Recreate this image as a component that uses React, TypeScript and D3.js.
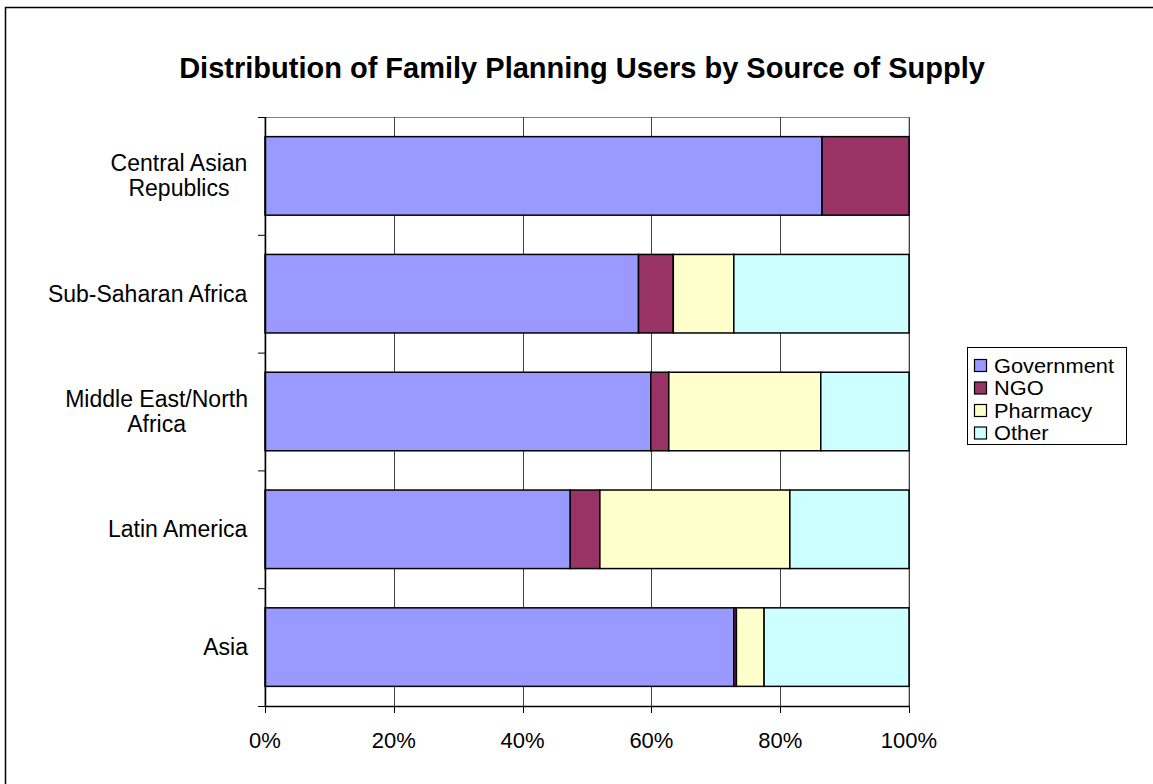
import React from "react";
import * as d3 from "d3";

const categories = ["Central Asian Republics", "Sub-Saharan Africa", "Middle East/North Africa", "Latin America", "Asia"];
const categoryLines = [["Central Asian", "Republics"], ["Sub-Saharan Africa"], ["Middle East/North", "Africa"], ["Latin America"], ["Asia"]];
const seriesNames = ["Government", "NGO", "Pharmacy", "Other"];
const government = [86.5, 58.0, 59.9, 47.4, 72.8];
const ngo = [13.5, 5.4, 2.8, 4.6, 0.4];
const pharmacy = [0, 9.4, 23.6, 29.5, 4.3];
const other = [0, 27.2, 13.7, 18.5, 22.5];
const xTicks = [0, 20, 40, 60, 80, 100];
const colors = ["#9999FF", "#993366", "#FFFFCC", "#CCFFFF"];

const FONT = "'Liberation Sans', Arial, Helvetica, sans-serif";

let ctx: CanvasRenderingContext2D | null = null;
function measure(text: string, size: number) {
  if (!ctx && typeof document !== "undefined") {
    ctx = document.createElement("canvas").getContext("2d");
  }
  if (!ctx) return text.length * size * 0.5;
  ctx.font = `${size}px ${FONT}`;
  return ctx.measureText(text).width;
}

export default function App() {
  const W = 1153, H = 784;
  const left = 265, right = 909, top = 117, bottom = 706;
  const x = d3.scaleLinear().domain([0, 100]).range([left, right]);
  const y = d3.scaleBand().domain(categories).range([top, bottom]).paddingInner(1 / 3).paddingOuter(1 / 6);
  const band = d3.scaleBand().domain(categories).range([top, bottom]);

  const rows = categories.map((c, i) => ({ cat: c, Government: government[i], NGO: ngo[i], Pharmacy: pharmacy[i], Other: other[i] }));
  const stack = d3.stack<any>().keys(seriesNames)(rows);
  const labelSize = 23;
  const legendSize = 20;

  return (
    <svg width={W} height={H} style={{ position: "absolute", left: 0, top: 0, background: "#fff" }} fontFamily={FONT}>
      <rect x={5.5} y={7.5} width={1300} height={900} fill="#fff" stroke="#000" strokeWidth={1.5} />
      <text x={582} y={78} textAnchor="middle" fontSize={29} fontWeight="bold">Distribution of Family Planning Users by Source of Supply</text>
      <rect x={left} y={top + 0.5} width={right - left} height={bottom - top} fill="none" stroke="#808080" strokeWidth={1} />
      {xTicks.map((t) => (
        <line key={"g" + t} x1={Math.round(x(t)) + 0.5} x2={Math.round(x(t)) + 0.5} y1={top} y2={bottom} stroke="#404040" strokeWidth={1} />
      ))}
      {stack.map((s, si) => (
        <g key={s.key}>
          {s.map((d, i) =>
            d[1] - d[0] > 0 ? (
              <rect key={i} x={x(d[0])} y={y(categories[i])!} width={x(d[1]) - x(d[0])} height={y.bandwidth()} fill={colors[si]} stroke="#000" strokeWidth={1.5} />
            ) : null
          )}
        </g>
      ))}
      <line x1={left + 0.5} x2={left + 0.5} y1={top} y2={bottom} stroke="#000" strokeWidth={1.5} />
      {categories.map((c, i) => (
        <line key={"yt" + i} x1={left - 7} x2={left} y1={band(c)! + 0.5} y2={band(c)! + 0.5} stroke="#000" strokeWidth={1} />
      ))}
      <line x1={left - 7} x2={left} y1={bottom + 0.5} y2={bottom + 0.5} stroke="#000" strokeWidth={1} />
      <line x1={left} x2={right + 1} y1={bottom + 0.5} y2={bottom + 0.5} stroke="#000" strokeWidth={1.5} />
      {xTicks.map((t) => (
        <g key={"xt" + t}>
          <line x1={Math.round(x(t)) + 0.5} x2={Math.round(x(t)) + 0.5} y1={bottom} y2={bottom + 7} stroke="#000" strokeWidth={1} />
          <text x={x(t)} y={748} textAnchor="middle" fontSize={22}>{t + "%"}</text>
        </g>
      ))}
      {categories.map((c, i) => {
        const lines = categoryLines[i];
        const cy = band(c)! + band.bandwidth() / 2;
        const lh = 25;
        const maxW = Math.max(...lines.map((l) => measure(l, labelSize)));
        const cx = 248 - maxW / 2;
        return (
          <g key={"cl" + i}>
            {lines.map((l, li) => {
              const baseY = cy - ((lines.length - 1) * lh) / 2 + li * lh + 8;
              return (
                <text key={li} x={cx} y={baseY} textAnchor="middle" fontSize={labelSize}>
                  {l}
                </text>
              );
            })}
          </g>
        );
      })}
      <rect x={967.5} y={347.5} width={159} height={97} fill="#fff" stroke="#000" strokeWidth={1} />
      {seriesNames.map((s, i) => (
        <g key={"lg" + s}>
          <rect x={974.5} y={359.5 + i * 22.5} width={12} height={12} fill={colors[i]} stroke="#000" strokeWidth={1.2} />
          <text x={994} y={372.5 + i * 22.5} fontSize={legendSize} textLength={measure(s, legendSize) * 1.09} lengthAdjust="spacingAndGlyphs">{s}</text>
        </g>
      ))}
    </svg>
  );
}
